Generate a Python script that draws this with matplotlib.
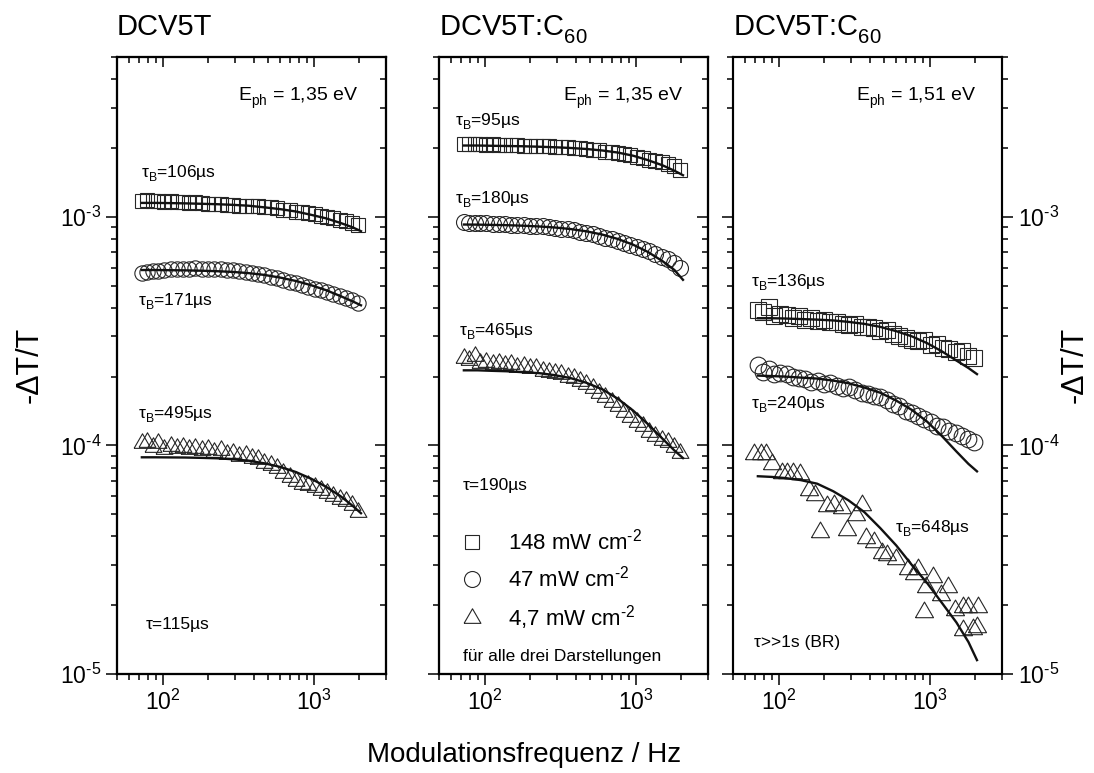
import numpy as np
import matplotlib
matplotlib.use('Agg')
import matplotlib.pyplot as plt
import matplotlib._mathtext as mathtext_internal
from matplotlib.ticker import LogLocator, NullFormatter, FuncFormatter

plt.rcParams['font.family'] = ['Liberation Sans', 'DejaVu Sans']
plt.rcParams['mathtext.fontset'] = 'custom'
plt.rcParams['mathtext.rm'] = 'Liberation Sans'
plt.rcParams['mathtext.it'] = 'Liberation Sans:italic'
plt.rcParams['mathtext.bf'] = 'Liberation Sans:bold'
plt.rcParams['mathtext.sf'] = 'Liberation Sans'
# Origin puts subscripts lower than mathtext does
mathtext_internal.FontConstantsBase.sub1 = 0.55

freq = [73, 79, 86, 94, 103, 113, 124, 136, 150, 165, 182, 200, 220, 242, 266, 293, 322, 354,
        390, 429, 472, 519, 571, 628, 691, 760, 836, 920, 1012, 1113, 1224, 1347, 1481, 1629, 1792, 1971]
fit_freq = [73, 90, 110, 140, 180, 230, 290, 370, 470, 600, 760, 960, 1200, 1500, 1800, 2050]

# DCV5T, 1.35 eV
a_sq = [1.17, 1.18, 1.17, 1.17, 1.16, 1.17, 1.16, 1.16, 1.15, 1.16, 1.15, 1.14, 1.14, 1.14, 1.13, 1.13, 1.12, 1.12,
        1.11, 1.11, 1.10, 1.10, 1.09, 1.07, 1.07, 1.05, 1.05, 1.04, 1.03, 1.01, 1.00, 0.99, 0.97, 0.96, 0.94, 0.92]
a_ci = [5.70, 5.75, 5.78, 5.80, 5.86, 5.90, 5.92, 5.93, 5.94, 5.95, 5.93, 5.93, 5.92, 5.90, 5.86, 5.85, 5.80, 5.76,
        5.70, 5.62, 5.55, 5.45, 5.38, 5.30, 5.20, 5.12, 5.05, 4.95, 4.85, 4.78, 4.70, 4.60, 4.50, 4.42, 4.32, 4.20]
a_tr = [1.02, 1.03, 0.98, 1.02, 0.96, 0.99, 0.97, 0.98, 0.96, 0.97, 0.95, 0.96, 0.94, 0.95, 0.92, 0.93, 0.90, 0.91,
        0.88, 0.87, 0.84, 0.82, 0.80, 0.76, 0.73, 0.70, 0.68, 0.67, 0.66, 0.64, 0.62, 0.60, 0.58, 0.57, 0.55, 0.51]
a_sq_fit = [1.150, 1.150, 1.148, 1.145, 1.140, 1.135, 1.128, 1.118, 1.100, 1.080, 1.055, 1.020, 0.985, 0.940, 0.900, 0.865]
a_ci_fit = [5.85, 5.85, 5.84, 5.83, 5.81, 5.78, 5.74, 5.67, 5.57, 5.42, 5.24, 5.02, 4.78, 4.50, 4.27, 4.10]
a_tr_fit = [8.87, 8.87, 8.86, 8.85, 8.82, 8.78, 8.70, 8.57, 8.35, 8.05, 7.65, 7.15, 6.60, 6.00, 5.45, 5.05]

# DCV5T:C60, 1.35 eV
b_sq = [2.09, 2.08, 2.09, 2.08, 2.07, 2.08, 2.07, 2.06, 2.07, 2.06, 2.05, 2.05, 2.04, 2.04, 2.03, 2.02, 2.02, 2.01,
        2.00, 1.99, 1.98, 1.96, 1.95, 1.93, 1.92, 1.90, 1.88, 1.86, 1.83, 1.81, 1.78, 1.76, 1.73, 1.70, 1.66, 1.60]
b_ci = [9.45, 9.40, 9.38, 9.40, 9.35, 9.30, 9.32, 9.30, 9.25, 9.22, 9.20, 9.15, 9.12, 9.08, 9.02, 8.96, 8.88, 8.80,
        8.72, 8.62, 8.50, 8.38, 8.26, 8.10, 7.98, 7.85, 7.70, 7.55, 7.40, 7.20, 7.05, 6.88, 6.70, 6.52, 6.30, 5.95]
b_tr = [2.40, 2.36, 2.45, 2.30, 2.32, 2.28, 2.30, 2.25, 2.26, 2.20, 2.22, 2.17, 2.18, 2.12, 2.10, 2.08, 2.05, 2.00,
        1.98, 1.92, 1.86, 1.78, 1.70, 1.62, 1.55, 1.48, 1.40, 1.33, 1.27, 1.21, 1.15, 1.10, 1.06, 1.03, 0.98, 0.93]
b_sq_fit = [2.050, 2.050, 2.045, 2.040, 2.035, 2.025, 2.015, 2.000, 1.980, 1.950, 1.910, 1.850, 1.770, 1.680, 1.590, 1.520]
b_ci_fit = [9.25, 9.24, 9.22, 9.19, 9.14, 9.07, 8.98, 8.84, 8.64, 8.36, 8.00, 7.55, 7.02, 6.40, 5.85, 5.30]
b_tr_fit = [2.13, 2.13, 2.12, 2.11, 2.09, 2.07, 2.03, 1.97, 1.88, 1.76, 1.60, 1.42, 1.24, 1.07, 0.95, 0.88]

# DCV5T:C60, 1.51 eV
c_sq = [3.90, 3.85, 4.02, 3.70, 3.75, 3.72, 3.60, 3.68, 3.55, 3.62, 3.50, 3.52, 3.45, 3.48, 3.40, 3.36, 3.38, 3.30,
        3.28, 3.25, 3.15, 3.20, 3.08, 3.02, 2.95, 2.90, 2.85, 2.88, 2.75, 2.78, 2.68, 2.65, 2.55, 2.58, 2.45, 2.40]
c_ci = [2.25, 2.10, 2.15, 2.05, 2.08, 2.05, 2.00, 1.98, 1.95, 1.90, 1.92, 1.85, 1.88, 1.82, 1.78, 1.80, 1.74, 1.70,
        1.68, 1.65, 1.62, 1.58, 1.52, 1.48, 1.42, 1.38, 1.35, 1.30, 1.26, 1.22, 1.20, 1.16, 1.13, 1.10, 1.07, 1.04]
c_tr_f = [69, 76, 83, 90, 105, 113, 125, 139, 158, 175, 189, 209, 231, 263, 284, 323, 357, 376, 428,
          486, 525, 597, 713, 790, 832, 921, 946, 1047, 1190, 1318, 1460, 1660, 1790, 2090, 1660, 1935, 2037]
c_tr = [9.14, 9.14, 9.20, 8.32, 7.57, 7.57, 7.57, 7.53, 6.35, 6.05, 4.18, 5.42, 5.47, 5.30, 4.25, 4.94, 5.47, 3.92, 3.79,
        3.37, 3.30, 3.20, 2.89, 2.75, 2.89, 1.87, 2.41, 2.66, 2.21, 2.41, 1.90, 1.97, 1.97, 1.97, 1.56, 1.58, 1.61]
c_sq_fit = [3.60, 3.60, 3.59, 3.57, 3.55, 3.52, 3.47, 3.40, 3.30, 3.16, 3.00, 2.80, 2.58, 2.35, 2.18, 2.05]
c_ci_fit = [2.02, 2.01, 2.00, 1.98, 1.96, 1.92, 1.87, 1.79, 1.70, 1.57, 1.43, 1.27, 1.10, 0.94, 0.83, 0.77]
c_tr_fit = [7.33, 7.28, 7.20, 7.05, 6.80, 6.30, 5.75, 5.10, 4.35, 3.65, 3.00, 2.50, 2.05, 1.68, 1.38, 1.15]

legend_labels = ['148 mW cm$^{\\text{-}2}$', '47 mW cm$^{\\text{-}2}$', '4,7 mW cm$^{\\text{-}2}$']

TRI = [(-1, -0.577), (1, -0.577), (0, 1.155), (-1, -0.577)]
MEC = '#262626'


def pow10(v, pos):
    e = int(round(np.log10(v)))
    if e < 0:
        return '$\\mathdefault{10^{\\text{-}%d}}$' % (-e)
    return '$\\mathdefault{10^{%d}}$' % e


fig = plt.figure(figsize=(10.94, 7.73), dpi=100)
lefts = [117/1094, 439/1094, 733/1094]
W, B, H = 269/1094, 99/773, 617/773

panels = [
    dict(sq=(freq, a_sq, 1e-3), ci=(freq, a_ci, 1e-4), tr=(freq, a_tr, 1e-4),
         fits=[(a_sq_fit, 1e-3), (a_ci_fit, 1e-4), (a_tr_fit, 1e-5)], ms=(10, 11, 14)),
    dict(sq=(freq, b_sq, 1e-3), ci=(freq, b_ci, 1e-4), tr=(freq, b_tr, 1e-4),
         fits=[(b_sq_fit, 1e-3), (b_ci_fit, 1e-4), (b_tr_fit, 1e-4)], ms=(10, 11.5, 14)),
    dict(sq=(freq, c_sq, 1e-4), ci=(freq, c_ci, 1e-4), tr=(c_tr_f, c_tr, 1e-5),
         fits=[(c_sq_fit, 1e-4), (c_ci_fit, 1e-4), (c_tr_fit, 1e-5)], ms=(12, 12, 15)),
]

axes = []
for i, p in enumerate(panels):
    ax = fig.add_axes([lefts[i], B, W, H])
    axes.append(ax)
    msq, mci, mtr = p['ms']
    f, v, s = p['sq']
    hs, = ax.plot(f, np.array(v)*s, ls='none', marker='s', ms=msq, mfc='none', mec=MEC, mew=0.8)
    f, v, s = p['ci']
    hc, = ax.plot(f, np.array(v)*s, ls='none', marker='o', ms=mci, mfc='none', mec=MEC, mew=0.8)
    f, v, s = p['tr']
    ht, = ax.plot(f, np.array(v)*s, ls='none', marker=TRI, ms=mtr, mfc='none', mec=MEC, mew=0.8)
    for vals, s in p['fits']:
        ax.plot(fit_freq, np.array(vals)*s, color='#111111', lw=1.7, zorder=4)
    if i == 1:
        handles = [hs, hc, ht]

    ax.set_xscale('log')
    ax.set_yscale('log')
    ax.set_xlim(50, 3000)
    ax.set_ylim(1e-5, 5e-3)
    for a in (ax.xaxis, ax.yaxis):
        a.set_major_locator(LogLocator(base=10, numticks=10))
        a.set_minor_locator(LogLocator(base=10, subs=np.arange(2, 10), numticks=20))
        a.set_major_formatter(FuncFormatter(pow10))
        a.set_minor_formatter(NullFormatter())
    for sp in ax.spines.values():
        sp.set_linewidth(1.5)

    # top ticks point inward
    axt = ax.twiny()
    axt.set_xscale('log')
    axt.set_xlim(50, 3000)
    axt.xaxis.set_major_locator(LogLocator(base=10, numticks=10))
    axt.xaxis.set_minor_locator(LogLocator(base=10, subs=np.arange(2, 10), numticks=20))
    axt.tick_params(which='both', direction='in', top=True, labeltop=False, width=1.1)
    axt.tick_params(which='major', length=7.5)
    axt.tick_params(which='minor', length=4)
    for sp in axt.spines.values():
        sp.set_linewidth(1.5)

    if i < 2:
        axr = ax.twinx()
        axr.set_yscale('log')
        axr.set_ylim(1e-5, 5e-3)
        axr.yaxis.set_major_locator(LogLocator(base=10, numticks=10))
        axr.yaxis.set_minor_locator(LogLocator(base=10, subs=np.arange(2, 10), numticks=20))
        axr.tick_params(which='both', direction='in', right=True, labelright=False, width=1.1)
        axr.tick_params(which='major', length=8)
        axr.tick_params(which='minor', length=4.5)
        for sp in axr.spines.values():
            sp.set_linewidth(1.5)

    ax.tick_params(which='both', direction='out', width=1.1, labelsize=16.5,
                   left=True, bottom=True, top=False,
                   right=(i == 2), labelright=(i == 2), labelleft=(i == 0))
    ax.tick_params(which='major', length=8, pad=3.5)
    ax.tick_params(which='minor', length=4.5)

ax1, ax2, ax3 = axes

# titles
fig.text(117/1094, 1 - 35/773, 'DCV5T', fontsize=21, ha='left', va='baseline')
fig.text(439/1094, 1 - 35/773, 'DCV5T:C$_{60}$', fontsize=21, ha='left', va='baseline')
fig.text(733/1094, 1 - 35/773, 'DCV5T:C$_{60}$', fontsize=21, ha='left', va='baseline')

# axis labels
fig.text(30/1094, 0.528, '-ΔT/T', rotation=90, fontsize=22, ha='center', va='center')
fig.text(1075/1094, 0.528, '-ΔT/T', rotation=90, fontsize=22, ha='center', va='center')
fig.text(524/1094, 11/773, 'Modulationsfrequenz / Hz', fontsize=20, ha='center', va='baseline')

# annotations
def note(ax, x, y, s, size=12.5, ha='left'):
    ax.text(x, y, s, transform=ax.transAxes, fontsize=size, ha=ha, va='baseline')

note(ax1, 0.896, 0.930, 'E$_{\\mathrm{ph}}$ = 1,35 eV', size=14, ha='right')
note(ax1, 0.089, 0.805, 'τ$_{\\mathrm{B}}$=106µs')
note(ax1, 0.078, 0.598, 'τ$_{\\mathrm{B}}$=171µs')
note(ax1, 0.078, 0.415, 'τ$_{\\mathrm{B}}$=495µs')
note(ax1, 0.108, 0.073, 'τ=115µs')

note(ax2, 0.907, 0.930, 'E$_{\\mathrm{ph}}$ = 1,35 eV', size=14, ha='right')
note(ax2, 0.060, 0.890, 'τ$_{\\mathrm{B}}$=95µs')
note(ax2, 0.060, 0.763, 'τ$_{\\mathrm{B}}$=180µs')
note(ax2, 0.075, 0.549, 'τ$_{\\mathrm{B}}$=465µs')
note(ax2, 0.090, 0.298, 'τ=190µs')
note(ax2, 0.090, 0.021, 'für alle drei Darstellungen')

note(ax3, 0.904, 0.930, 'E$_{\\mathrm{ph}}$ = 1,51 eV', size=14, ha='right')
note(ax3, 0.067, 0.629, 'τ$_{\\mathrm{B}}$=136µs')
note(ax3, 0.067, 0.431, 'τ$_{\\mathrm{B}}$=240µs')
note(ax3, 0.604, 0.230, 'τ$_{\\mathrm{B}}$=648µs')
note(ax3, 0.078, 0.044, 'τ>>1s (BR)')

ax2.legend(handles, legend_labels, loc='upper left', bbox_to_anchor=(0.082, 0.235),
           frameon=False, fontsize=16, handlelength=1.0, handletextpad=1.1,
           labelspacing=0.5, borderpad=0, borderaxespad=0, numpoints=1)

plt.savefig('out.png', dpi=100)
